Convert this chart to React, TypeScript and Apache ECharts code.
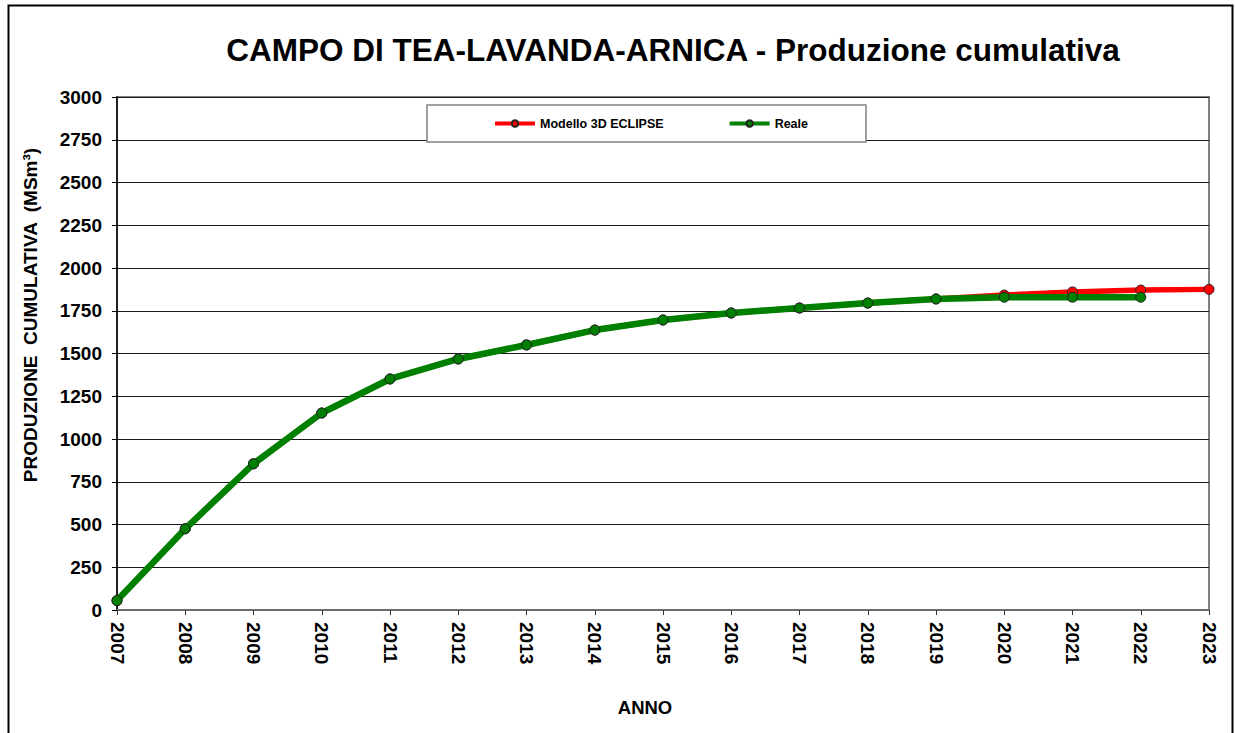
import React, { useEffect, useRef } from "react";
import * as echarts from "echarts";

const years = ["2007","2008","2009","2010","2011","2012","2013","2014","2015","2016","2017","2018","2019","2020","2021","2022","2023"];
const modello = [55, 475, 855, 1152, 1351, 1468, 1550, 1637, 1696, 1737, 1766, 1795, 1819, 1842, 1860, 1871, 1875];
const reale = [55, 475, 855, 1152, 1351, 1468, 1550, 1637, 1696, 1737, 1766, 1795, 1819, 1829, 1829, 1829, null];
const yTicks = { min: 0, max: 3000, interval: 250 };

const FONT = "'Liberation Sans', Arial, sans-serif";

export default function App() {
  const ref = useRef<HTMLDivElement>(null);
  useEffect(() => {
    if (!ref.current) return;
    const chart = echarts.init(ref.current, null, { renderer: "svg" });
    chart.setOption({
      animation: false,
      backgroundColor: "#fff",
      textStyle: { fontFamily: FONT },
      grid: { left: 117, right: 26, top: 97, bottom: 123, show: true, borderColor: "#808080", borderWidth: 2, backgroundColor: "transparent" },
      legend: {
        left: 427, top: 105,
        padding: [12, 58, 12, 66],
        itemGap: 64,
        itemWidth: 40, itemHeight: 8,
        backgroundColor: "#fff",
        borderColor: "#808080", borderWidth: 1.5,
        lineStyle: { width: 4 },
        textStyle: { fontFamily: FONT, fontWeight: "bold", fontSize: 12.5, color: "#000" },
        data: ["Modello 3D ECLIPSE", "Reale"],
      },
      xAxis: {
        type: "category",
        data: years,
        boundaryGap: false,
        axisLine: { lineStyle: { color: "#6e6e6e", width: 2 } },
        axisTick: { show: true, length: 5, lineStyle: { color: "#333", width: 1 } },
        axisLabel: { rotate: -90, margin: 12, color: "#000", fontWeight: "bold", fontSize: 19, fontFamily: FONT },
        splitLine: { show: false },
      },
      yAxis: {
        type: "value",
        min: yTicks.min, max: yTicks.max, interval: yTicks.interval,
        axisLine: { show: true, lineStyle: { color: "#000", width: 1.5 } },
        axisTick: { show: true, length: 5, lineStyle: { color: "#000" } },
        axisLabel: { margin: 15, color: "#000", fontWeight: "bold", fontSize: 19, fontFamily: FONT, formatter: (v: number) => String(v) },
        splitLine: { lineStyle: { color: "#1a1a1a", width: 1 } },
      },
      series: [
        {
          name: "Modello 3D ECLIPSE", type: "line", data: modello,
          lineStyle: { color: "#ff0000", width: 5.5 },
          itemStyle: { color: "#ff0000", borderColor: "#222", borderWidth: 1 },
          symbol: "circle", symbolSize: 10, z: 2,
        },
        {
          name: "Reale", type: "line", data: reale,
          lineStyle: { color: "#008000", width: 6.5 },
          itemStyle: { color: "#008000", borderColor: "#222", borderWidth: 1 },
          symbol: "circle", symbolSize: 10, z: 3,
        },
      ],
      graphic: [
        { type: "rect", shape: { x: 8.5, y: 5.5, width: 1224, height: 760 }, style: { fill: "none", stroke: "#000", lineWidth: 2 }, z: 0, silent: true },
        { type: "text", x: 673, y: 50, style: { text: "CAMPO DI TEA-LAVANDA-ARNICA - Produzione cumulativa", fontFamily: FONT, fontWeight: "bold", fontSize: 31.5, fill: "#000", align: "center", verticalAlign: "middle" } },
        { type: "text", x: 30, y: 315, rotation: Math.PI / 2, style: { text: "PRODUZIONE  CUMULATIVA  (MSm³)", fontFamily: FONT, fontWeight: "bold", fontSize: 19, fill: "#000", align: "center", verticalAlign: "middle" } },
        { type: "text", x: 645, y: 707, style: { text: "ANNO", fontFamily: FONT, fontWeight: "bold", fontSize: 18.5, fill: "#000", align: "center", verticalAlign: "middle" } },
      ],
    });
    return () => chart.dispose();
  }, []);
  return <div ref={ref} style={{ position: "absolute", left: 0, top: 0, width: 1235, height: 733 }} />;
}
